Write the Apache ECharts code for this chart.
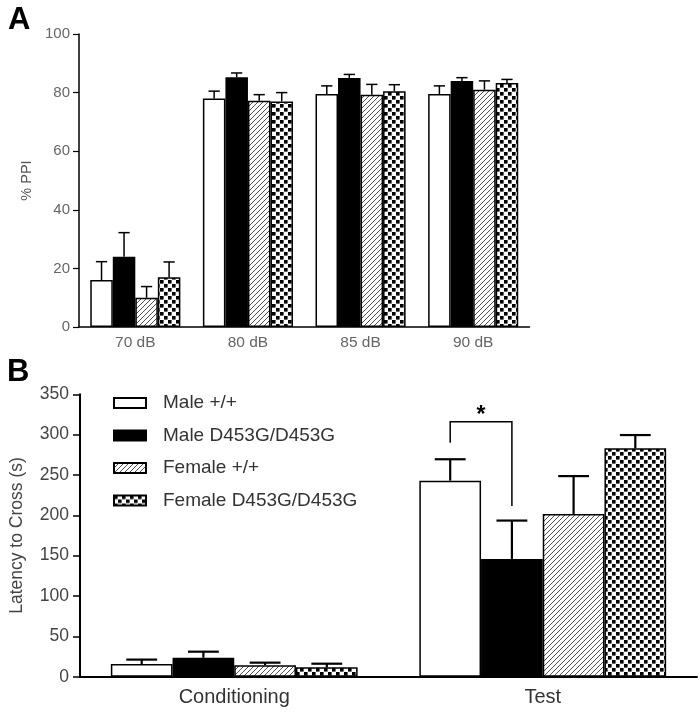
<!DOCTYPE html>
<html>
<head>
<meta charset="utf-8">
<script src="https://cdn.jsdelivr.net/npm/echarts@6/dist/echarts.min.js"></script>
<style>html,body{margin:0;padding:0;background:#fff}#c{width:700px;height:714px}</style>
</head>
<body>
<div id="c"></div>
<script>
// ---- Data ----
const seriesNames = ['Male +/+', 'Male D453G/D453G', 'Female +/+', 'Female D453G/D453G'];

const categoriesA = ['70 dB', '80 dB', '85 dB', '90 dB'];
const ticksA = [0, 20, 40, 60, 80, 100];
const maleWT_A = [16, 78, 79.5, 79.5];
const maleMut_A = [24, 85.2, 85, 84];
const femWT_A = [10, 77.2, 79.3, 81];
const femMut_A = [17, 77, 80.5, 83.3];
const maleWT_A_err = [6.3, 2.5, 2.8, 2.8];
const maleMut_A_err = [8.2, 1.5, 1.2, 1.1];
const femWT_A_err = [3.8, 2.1, 3.5, 3.0];
const femMut_A_err = [5.2, 3.0, 2.2, 1.2];

const categoriesB = ['Conditioning', 'Test'];
const ticksB = [0, 50, 100, 150, 200, 250, 300, 350];
const maleWT_B = [15.7, 243];
const maleMut_B = [23.5, 146];
const femWT_B = [14.1, 201.6];
const femMut_B = [11.6, 283];
const maleWT_B_err = [5.5, 26.5];
const maleMut_B_err = [7.5, 47.5];
const femWT_B_err = [3.3, 47];
const femMut_B_err = [4.5, 16.5];

// significance bracket in Test: [left end, top, right end]
const bracketB = [290, 316, 211.5];

// ---- Patterns ----
function hatch() {
  const s = 5, c = document.createElement('canvas');
  c.width = s; c.height = s;
  const g = c.getContext('2d');
  g.fillStyle = '#fff'; g.fillRect(0, 0, s, s);
  g.strokeStyle = '#222'; g.lineWidth = 0.8;
  g.beginPath();
  g.moveTo(-1, s + 1); g.lineTo(s + 1, -1);
  g.moveTo(-1, 1); g.lineTo(1, -1);
  g.moveTo(s - 1, s + 1); g.lineTo(s + 1, s - 1);
  g.stroke();
  return c;
}
function checker() {
  const s = 8, c = document.createElement('canvas');
  c.width = s; c.height = s;
  const g = c.getContext('2d');
  g.fillStyle = '#fff'; g.fillRect(0, 0, s, s);
  g.fillStyle = '#000';
  g.fillRect(0, 0, 3.6, 3.6); g.fillRect(4, 4, 3.6, 3.6);
  return c;
}
const fills = ['#ffffff', '#000000',
  { image: hatch(), repeat: 'repeat' },
  { image: checker(), repeat: 'repeat' }];

const FONT = "'Liberation Sans', Arial, sans-serif";
const offsets = [-0.3, -0.1, 0.1, 0.3];

function errSeries(idx, grid, means, errs, lw) {
  return {
    type: 'custom', xAxisIndex: grid, yAxisIndex: grid, z: 5, silent: true,
    data: means.map((m, i) => [i, m, errs[i]]),
    renderItem: function (params, api) {
      const base = api.coord([api.value(0), api.value(1)]);
      const top = api.coord([api.value(0), api.value(1) + api.value(2)]);
      const band = api.size([1, 0])[0];
      const cx = base[0] + offsets[idx] * band;
      const half = band * 0.2 * 0.25;
      const st = { stroke: '#000', lineWidth: lw };
      return {
        type: 'group', children: [
          { type: 'line', shape: { x1: cx, y1: base[1], x2: cx, y2: top[1] }, style: st },
          { type: 'line', shape: { x1: cx - half, y1: top[1], x2: cx + half, y2: top[1] }, style: st }
        ]
      };
    }
  };
}

function barSeries(idx, grid, data) {
  return {
    name: seriesNames[idx], type: 'bar', xAxisIndex: grid, yAxisIndex: grid,
    data: data, barGap: '0%', barCategoryGap: '20%',
    itemStyle: { color: fills[idx], borderColor: '#000', borderWidth: 1.5 },
    emphasis: { disabled: true }, animation: false
  };
}

const dataA = [maleWT_A, maleMut_A, femWT_A, femMut_A];
const errA = [maleWT_A_err, maleMut_A_err, femWT_A_err, femMut_A_err];
const dataB = [maleWT_B, maleMut_B, femWT_B, femMut_B];
const errB = [maleWT_B_err, maleMut_B_err, femWT_B_err, femMut_B_err];

const series = [];
for (let i = 0; i < 4; i++) series.push(barSeries(i, 0, dataA[i]));
for (let i = 0; i < 4; i++) series.push(barSeries(i, 1, dataB[i]));
for (let i = 0; i < 4; i++) series.push(errSeries(i, 0, dataA[i], errA[i], 1.5));
for (let i = 0; i < 4; i++) series.push(errSeries(i, 1, dataB[i], errB[i], 2.2));

series.push({
  type: 'custom', xAxisIndex: 1, yAxisIndex: 1, z: 6, silent: true,
  data: [[1, bracketB[0], bracketB[1], bracketB[2]]],
  renderItem: function (params, api) {
    const band = api.size([1, 0])[0];
    const c0 = api.coord([api.value(0), api.value(1)]);
    const ct = api.coord([api.value(0), api.value(2)]);
    const c2 = api.coord([api.value(0), api.value(3)]);
    const xl = c0[0] + offsets[0] * band;
    const xr = c0[0] + offsets[1] * band;
    return {
      type: 'group', children: [
        { type: 'polyline', shape: { points: [[xl, c0[1]], [xl, ct[1]], [xr, ct[1]], [xr, c2[1]]] },
          style: { stroke: '#000', lineWidth: 1.5, fill: null } },
        { type: 'text', style: { text: '*', x: (xl + xr) / 2, y: ct[1] + 5, align: 'center', verticalAlign: 'bottom',
          font: "bold 23px " + FONT, fill: '#000' } }
      ]
    };
  }
});

const option = {
  animation: false,
  backgroundColor: '#fff',
  title: [
    { text: 'A', left: 3, top: 0, textStyle: { fontSize: 31, fontWeight: 'bold', color: '#000', fontFamily: FONT } },
    { text: 'B', left: 2, top: 352, textStyle: { fontSize: 31, fontWeight: 'bold', color: '#000', fontFamily: FONT } }
  ],
  legend: {
    data: seriesNames, orient: 'vertical', left: 108, top: 387,
    itemWidth: 32, itemHeight: 10, itemGap: 10.5, icon: 'rect', selectedMode: false,
    textStyle: { fontSize: 19, color: '#333', fontFamily: FONT, lineHeight: 22, padding: [0, 0, 0, 12] }
  },
  grid: [
    { left: 79, top: 34, right: 170.5, bottom: 387, containLabel: false },
    { left: 77, top: 394.3, right: 3, bottom: 37.3, containLabel: false }
  ],
  xAxis: [
    { type: 'category', gridIndex: 0, data: categoriesA,
      axisLine: { lineStyle: { color: '#000', width: 1.5 } },
      axisTick: { alignWithLabel: true, length: 5, lineStyle: { color: '#000', width: 1.2 } },
      axisLabel: { color: '#666', fontSize: 15.5, margin: 8, fontFamily: FONT } },
    { type: 'category', gridIndex: 1, data: categoriesB,
      axisLine: { lineStyle: { color: '#000', width: 2 } },
      axisTick: { alignWithLabel: true, length: 6, lineStyle: { color: '#000', width: 1.5 } },
      axisLabel: { color: '#333', fontSize: 20, margin: 11, fontFamily: FONT } }
  ],
  yAxis: [
    { type: 'value', gridIndex: 0, min: 0, max: 100, interval: 20,
      name: '% PPI', nameLocation: 'middle', nameGap: 45,
      nameTextStyle: { color: '#555', fontSize: 14.5, fontFamily: FONT },
      splitLine: { show: false },
      axisLine: { show: true, lineStyle: { color: '#000', width: 1.5 } },
      axisTick: { show: true, length: 6, lineStyle: { color: '#000', width: 1.2 } },
      axisLabel: { color: '#666', fontSize: 15, margin: 9, fontFamily: FONT,
        formatter: v => ticksA.indexOf(v) >= 0 ? String(v) : '' } },
    { type: 'value', gridIndex: 1, min: 0, max: 350, interval: 50,
      name: 'Latency to Cross (s)', nameLocation: 'middle', nameGap: 54,
      nameTextStyle: { color: '#444', fontSize: 17.5, fontFamily: FONT },
      splitLine: { show: false },
      axisLine: { show: true, lineStyle: { color: '#000', width: 2 } },
      axisTick: { show: true, length: 7, lineStyle: { color: '#000', width: 1.5 } },
      axisLabel: { color: '#444', fontSize: 17.5, margin: 11, fontFamily: FONT,
        formatter: v => ticksB.indexOf(v) >= 0 ? String(v) : '' } }
  ],
  series: series
};

const chart = echarts.init(document.getElementById('c'), null, { renderer: 'canvas' });
chart.setOption(option);
</script>
</body>
</html>
